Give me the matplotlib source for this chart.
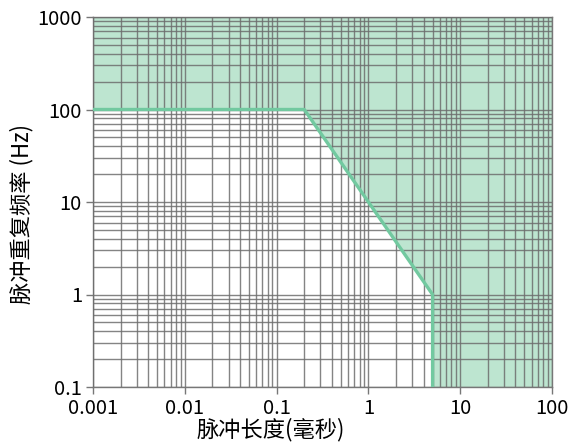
import matplotlib
matplotlib.use("Agg")
import matplotlib.pyplot as plt
from matplotlib.ticker import FixedLocator, FixedFormatter, LogLocator, NullFormatter

plt.rcParams['font.family'] = ['Noto Sans CJK SC', 'DejaVu Sans']

# boundary of the allowed region (pulse length ms, repetition rate Hz)
pulse_len = [0.001, 0.2, 5, 5]
rep_rate = [100, 100, 1, 0.1]

x_ticks = [0.001, 0.01, 0.1, 1, 10, 100]
x_labels = ["0.001", "0.01", "0.1", "1", "10", "100"]
y_ticks = [0.1, 1, 10, 100, 1000]
y_labels = ["0.1", "1", "10", "100", "1000"]

fig = plt.figure(figsize=(5.74, 4.43), dpi=100)
ax = fig.add_axes([93 / 574, 1 - 387 / 443, (552 - 93) / 574, (387 - 17) / 443])
ax.set_xscale('log')
ax.set_yscale('log')
ax.set_xlim(0.001, 100)
ax.set_ylim(0.1, 1000)

# green area above/right of the boundary
ax.fill_between(pulse_len + [100], rep_rate + [0.1], 1000, color='#bde5d0', zorder=0, linewidth=0)

ax.xaxis.set_major_locator(FixedLocator(x_ticks))
ax.xaxis.set_major_formatter(FixedFormatter(x_labels))
ax.yaxis.set_major_locator(FixedLocator(y_ticks))
ax.yaxis.set_major_formatter(FixedFormatter(y_labels))
ax.xaxis.set_minor_locator(LogLocator(base=10, subs=range(2, 10), numticks=20))
ax.yaxis.set_minor_locator(LogLocator(base=10, subs=range(2, 10), numticks=20))
ax.xaxis.set_minor_formatter(NullFormatter())
ax.yaxis.set_minor_formatter(NullFormatter())

ax.grid(True, which='both', color='#6e6e6e', linewidth=1, alpha=0.85, zorder=1)
ax.set_axisbelow(False)

ax.plot(pulse_len, rep_rate, color='#72c9a0', linewidth=2.4, zorder=3, solid_capstyle='butt')

ax.tick_params(which='major', length=5, width=1, color='#777777', labelsize=14.5, pad=3)
ax.tick_params(which='minor', length=0)
for s in ax.spines.values():
    s.set_color('#777777')
    s.set_linewidth(1)

ax.set_xlabel("脉冲长度(毫秒)", fontsize=16)
ax.xaxis.set_label_coords((271 - 93) / 459, -(418 - 387) / 370)
ax.set_ylabel("脉冲重复频率 (Hz)", fontsize=16)
ax.yaxis.set_label_coords(-(93 - 33) / 459, (387 - 214) / 370)

fig.savefig("out.png", dpi=100)
